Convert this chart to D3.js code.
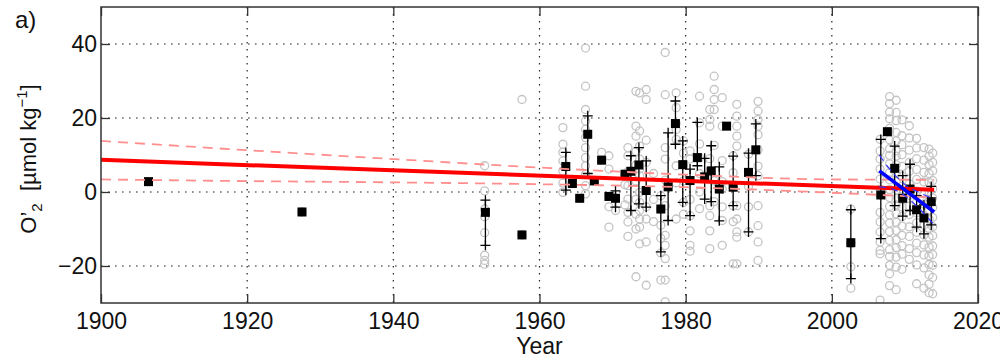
<!DOCTYPE html>
<html>
<head>
<meta charset="utf-8">
<script src="https://cdn.jsdelivr.net/npm/d3@7"></script>
<style>
  body { margin: 0; background: #fff; }
  svg { display: block; }
  text { font-family: "Liberation Sans", Arial, sans-serif; fill: #111; }
</style>
</head>
<body>
<svg id="chart" width="1000" height="358"></svg>
<script>
// ========================
// Data
// ========================
const xTicks = [1900, 1920, 1940, 1960, 1980, 2000, 2020];
const yTicks = [-20, 0, 20, 40];

// individual observations (grey circles), grouped by year
const obsYears = [1906.5, 1927.5, 1952.5, 1957.6, 1963.2, 1964.5, 1965.5, 1966.3, 1967.5, 1968.5,
  1969.5, 1970.4, 1971.7, 1972.1, 1973.2, 1973.7, 1974.6, 1975.6, 1976.6, 1977.2,
  1978.7, 1979.7, 1980.6, 1981.9, 1983.3, 1983.9, 1985.0, 1986.5, 1987.0, 1988.6,
  1989.9, 2002.6, 2006.6, 2007.9, 2008.8, 2009.6, 2010.6, 2011.6, 2012.6, 2013.3, 2013.8];
const obsValues = [
  [2.8],
  [-5.4],
  [7.1, 0.3, -4.6, -6.7, -11.0, -17.1, -18.5, -19.5],
  [25.0, -11.6],
  [17.4, 12.9, 10.7, 8.4, 5.7, 2.4, -0.1],
  [2.3],
  [-1.7],
  [38.9, 28.6, 22.3, 19.2, 16.9, 14.7, 12.0, 9.3, 7.1, 4.8, 1.7, -0.5],
  [3.0],
  [10.7, 8.6],
  [9.8, 6.2, -1.2, -4.0, -9.5],
  [-1.7, -5.0],
  [4.8, 2.0, -3.5],
  [12.0, 9.8, 5.5, 1.7, -1.9, -5.5, -8.1, -12.0],
  [27.2, 17.8, 15.1, 11.0, 7.3, 3.0, -2.0, -6.0, -10.0, -22.9],
  [26.8, 16.5, 12.4, 8.9, 6.2, 4.4, -0.1, -2.8, -5.0, -7.3, -9.5, -14.0],
  [27.7, 25.0, 14.0, 8.0, 0.4, -4.0, -7.3, -13.5, -25.2],
  [5.0, -2.0, -8.0],
  [-1.0, -4.6, -9.0, -12.5, -16.5, -23.8],
  [37.7, 26.3, 12.0, 8.9, 3.2, -3.7, -11.7, -14.4, -18.0, -23.8, -29.7],
  [26.8, 22.8, 18.5, 16.9, 14.2, 7.1, 2.5, -7.3],
  [13.8, 10.5, 7.3, 3.0, -2.8, -6.0],
  [11.1, 8.9, 3.0, -2.0, -6.4, -10.5, -14.4, -16.0],
  [25.9, 18.7, 13.0, 9.3, 5.0, 0.0, -4.5],
  [22.3, 19.6, 17.8, 9.0, 5.7, -3.7, -6.4, -10.5, -15.3],
  [31.3, 27.7, 25.0, 22.3, 12.6, 3.0, -2.6],
  [25.5, 17.8, 8.5, 2.8, 0.8, -4.0, -7.7, -14.4],
  [9.8, 5.2, 1.3, -3.7, -8.0, -19.4],
  [23.7, 20.5, 17.8, 15.1, 12.4, -3.7, -7.3, -10.8, -12.2, -19.4],
  [10.2, 5.3, 1.5, -4.0, -10.8],
  [24.5, 21.9, 19.6, 17.8, 15.5, 11.4, 7.0, 4.4, -3.7, -9.1, -13.5, -18.5],
  [-4.6, -13.7, -14.0, -20.2, -26.0],
  [14.2, 11.1, 8.9, 6.2, 3.5, 0.8, -0.8, -5.5, -8.1, -10.8, -13.5, -15.8, -16.7, -29.2],
  [25.8, 23.9, 21.6, 19.8, 17.2, 16.3, 14.1, 11.7, 9.9, 7.6, 5.2, 3.3, 0.7, -1.5, -3.9, -6.2, -8.4, -10.7, -13.1, -15.6, -17.4, -19.8, -22.1, -25.3],
  [24.8, 21.5, 19.3, 16.1, 13.8, 11.2, 9.7, 7.4, 5.1, 2.9, 0.6, -1.8, -3.5, -5.9, -8.2, -10.4, -12.9, -15.0, -17.6, -20.3, -26.4],
  [19.5, 15.2, 12.8, 10.1, 6.9, 4.2, 1.5, -1.3, -4.0, -6.6, -9.2, -11.7, -14.5, -16.8, -20.9],
  [17.9, 14.6, 11.3, 8.0, 5.6, 2.2, -0.9, -3.8, -6.1, -9.4, -12.0, -15.3, -18.2],
  [14.5, 11.9, 9.0, 6.1, 3.4, 0.2, -2.7, -5.6, -8.3, -10.9, -13.8, -16.4, -19.7, -24.8],
  [12.0, 8.6, 5.3, 2.7, -0.5, -3.2, -6.3, -9.0, -11.6, -14.3, -17.0, -20.5, -26.0],
  [11.6, 9.7, 7.4, 5.0, 2.6, 0.1, -2.4, -4.9, -7.3, -9.8, -12.2, -14.9, -17.3, -19.6, -22.4, -24.9, -27.2],
  [10.5, 8.0, 5.7, 3.1, 0.9, -1.6, -4.2, -6.9, -9.4, -11.8, -14.6, -16.9, -19.8, -23.1, -27.5]
];

// annual means (black squares) with spread (null = no bar)
const meanYears = [1906.5, 1927.5, 1952.6, 1957.6, 1963.6, 1964.5, 1965.5, 1966.6, 1967.5, 1968.5,
  1969.5, 1970.4, 1971.7, 1972.5, 1973.6, 1974.6, 1976.6, 1977.6, 1978.6, 1979.6,
  1980.6, 1981.6, 1982.6, 1983.5, 1984.6, 1985.6, 1986.5, 1988.6, 1989.6, 2002.6,
  2006.7, 2007.6, 2008.6, 2009.7, 2010.7, 2011.6, 2012.6, 2013.6];
const meanValues = [2.8, -5.4, -5.5, -11.6, 6.9, 2.3, -1.7, 15.6, 3.0, 8.6,
  -1.2, -1.7, 4.8, 5.6, 7.3, 0.4, -4.6, 1.4, 18.5, 7.4,
  3.1, 9.3, 4.1, 5.7, 0.8, 17.8, 1.3, 5.3, 11.4, -13.7,
  -0.8, 16.3, 6.4, -1.7, 0.8, -4.8, -7.0, -2.6];
const errLow = [null, null, -14.4, null, 0.5, null, null, 5.0, null, null,
  null, -4.1, null, -5.0, -3.2, -4.1, -16.2, -7.7, 12.9, -2.8,
  -6.4, 7.1, -1.9, -2.6, -7.8, null, -3.7, -10.8, 4.4, -23.4,
  -12.6, null, -3.7, -6.5, -5.0, -9.5, -11.3, -8.9];
const errHigh = [null, null, -2.2, null, 10.7, null, null, 20.6, null, null,
  null, 0.3, null, 9.8, 12.0, 8.4, -1.0, 16.0, 24.6, 13.8,
  6.2, 18.8, 9.1, 12.5, 6.8, null, 9.7, 10.5, 18.4, -4.8,
  14.2, null, 12.4, 4.4, 7.5, -1.0, -3.5, 1.5];

// long-term trend (red) and its confidence bounds
const fitYears = [1900, 2014];
const fitValues = [8.7, 0.6];
const ciYears = [1900, 1920, 1940, 1960, 1980, 2000, 2014];
const ciUpper = [13.8, 11.3, 8.9, 6.6, 4.7, 3.4, 3.3];
const ciLower = [3.4, 2.95, 2.6, 2.1, 1.3, -0.2, -1.5];

// recent trend (blue) and its confidence bounds
const recentYears = [2006.5, 2014];
const recentValues = [5.7, -5.4];
const recentCiYears = [2006.5, 2008, 2010, 2012, 2014];
const recentCiUpper = [10.0, 6.0, 2.0, -0.2, -1.9];
const recentCiLower = [1.4, 1.0, -1.0, -4.6, -8.9];

// ========================
// Setup
// ========================
const svg = d3.select("#chart");
const plotLeft = 101, plotRight = 978, plotTop = 7, plotBottom = 303;
const fontSize = 23;

const x = d3.scaleLinear().domain([1900, 2020]).range([plotLeft, plotRight]);
const y = d3.scaleLinear().domain([-30, 50]).range([plotBottom, plotTop]);

svg.append("clipPath").attr("id", "clip")
  .append("rect").attr("x", plotLeft).attr("y", plotTop)
  .attr("width", plotRight - plotLeft).attr("height", plotBottom - plotTop);

// Grid (dotted)
const grid = svg.append("g")
  .attr("stroke", "#222")
  .attr("stroke-width", 1.2)
  .attr("stroke-dasharray", "1.6,5.4");

grid.selectAll("line.v")
  .data(xTicks.slice(1, -1))
  .enter().append("line")
  .attr("class", "v")
  .attr("x1", d => x(d)).attr("x2", d => x(d))
  .attr("y1", plotTop).attr("y2", plotBottom);

grid.selectAll("line.h")
  .data(yTicks)
  .enter().append("line")
  .attr("class", "h")
  .attr("x1", plotLeft).attr("x2", plotRight)
  .attr("y1", d => y(d)).attr("y2", d => y(d));

const layer = svg.append("g").attr("clip-path", "url(#clip)");

// Grey circles
const obs = obsYears.flatMap((yr, i) => obsValues[i].map(v => ({ year: yr, value: v })));
layer.append("g")
  .selectAll("circle")
  .data(obs)
  .enter().append("circle")
  .attr("cx", d => x(d.year))
  .attr("cy", d => y(d.value))
  .attr("r", 4)
  .attr("fill", "none")
  .attr("stroke", "#c4c4c4")
  .attr("stroke-width", 1.3);

// Error bars
const means = meanYears.map((yr, i) => ({ year: yr, value: meanValues[i], lo: errLow[i], hi: errHigh[i] }));
const bars = layer.append("g")
  .attr("stroke", "#000")
  .attr("stroke-width", 1.3)
  .selectAll("g")
  .data(means.filter(d => d.lo !== null))
  .enter().append("g");

bars.append("line")
  .attr("x1", d => x(d.year)).attr("x2", d => x(d.year))
  .attr("y1", d => y(d.hi)).attr("y2", d => y(d.lo));

const capPath = (cx, cy) => `M${cx - 5},${cy}H${cx + 5}M${cx},${cy - 5}V${cy + 5}`;
bars.append("path")
  .attr("fill", "none")
  .attr("d", d => capPath(x(d.year), y(d.hi)) + capPath(x(d.year), y(d.lo)));

// Black squares
layer.append("g")
  .selectAll("rect")
  .data(means)
  .enter().append("rect")
  .attr("x", d => x(d.year) - 4.5)
  .attr("y", d => y(d.value) - 4.5)
  .attr("width", 9)
  .attr("height", 9)
  .attr("fill", "#000");

// Trend lines
const line = d3.line().x(d => x(d[0])).y(d => y(d[1]));
const smooth = d3.line().x(d => x(d[0])).y(d => y(d[1])).curve(d3.curveMonotoneX);

[ciUpper, ciLower].forEach(arr => {
  layer.append("path")
    .attr("d", smooth(ciYears.map((yr, i) => [yr, arr[i]])))
    .attr("fill", "none")
    .attr("stroke", "#ff8f8f")
    .attr("stroke-width", 1.8)
    .attr("stroke-dasharray", "10,7");
});

layer.append("path")
  .attr("d", line(fitYears.map((yr, i) => [yr, fitValues[i]])))
  .attr("fill", "none")
  .attr("stroke", "#ff0000")
  .attr("stroke-width", 4);

[recentCiUpper, recentCiLower].forEach(arr => {
  layer.append("path")
    .attr("d", smooth(recentCiYears.map((yr, i) => [yr, arr[i]])))
    .attr("fill", "none")
    .attr("stroke", "#3333ff")
    .attr("stroke-width", 1.2)
    .attr("stroke-dasharray", "7,5");
});

layer.append("path")
  .attr("d", line(recentYears.map((yr, i) => [yr, recentValues[i]])))
  .attr("fill", "none")
  .attr("stroke", "#0000ff")
  .attr("stroke-width", 3.5);

// ========================
// Axes (ticks pointing inward, box all round)
// ========================
const axisStyle = g => {
  g.select(".domain").remove();
  g.selectAll(".tick line").attr("stroke", "#333").attr("stroke-width", 1.3);
  g.selectAll("text").attr("font-size", fontSize).attr("fill", "#111")
    .style("font-family", "'Liberation Sans', Arial, sans-serif");
};

svg.append("g")
  .attr("transform", `translate(${plotLeft},0)`)
  .call(d3.axisLeft(y).tickValues(yTicks).tickSize(-9).tickPadding(4))
  .call(axisStyle);

svg.append("g")
  .attr("transform", `translate(${plotRight},0)`)
  .call(d3.axisRight(y).tickValues(yTicks).tickSize(-9).tickFormat(""))
  .call(axisStyle);

svg.append("g")
  .attr("transform", `translate(0,${plotBottom})`)
  .call(d3.axisBottom(x).tickValues(xTicks).tickSize(-9).tickPadding(10).tickFormat(d3.format("d")))
  .call(axisStyle);

svg.append("g")
  .attr("transform", `translate(0,${plotTop})`)
  .call(d3.axisTop(x).tickValues(xTicks).tickSize(-9).tickFormat(""))
  .call(axisStyle);

svg.append("rect")
  .attr("x", plotLeft).attr("y", plotTop)
  .attr("width", plotRight - plotLeft).attr("height", plotBottom - plotTop)
  .attr("fill", "none")
  .attr("stroke", "#333")
  .attr("stroke-width", 1.5);

// Labels
svg.append("text")
  .attr("x", x(1960))
  .attr("y", 354)
  .attr("text-anchor", "middle")
  .attr("font-size", fontSize)
  .text("Year");

svg.append("text")
  .attr("x", 15)
  .attr("y", 28)
  .attr("font-size", 24)
  .text("a)");

const ylab = svg.append("text")
  .attr("transform", "translate(36,159) rotate(-90)")
  .attr("text-anchor", "middle")
  .attr("font-size", 22);
ylab.append("tspan").text("O’");
ylab.append("tspan").attr("font-size", 15).attr("dy", 6).text("2");
ylab.append("tspan").attr("dy", -6).text("\u00a0\u00a0[µmol kg");
ylab.append("tspan").attr("font-size", 15).attr("dy", -9).text("−1");
ylab.append("tspan").attr("dy", 9).text("]");
</script>
</body>
</html>
